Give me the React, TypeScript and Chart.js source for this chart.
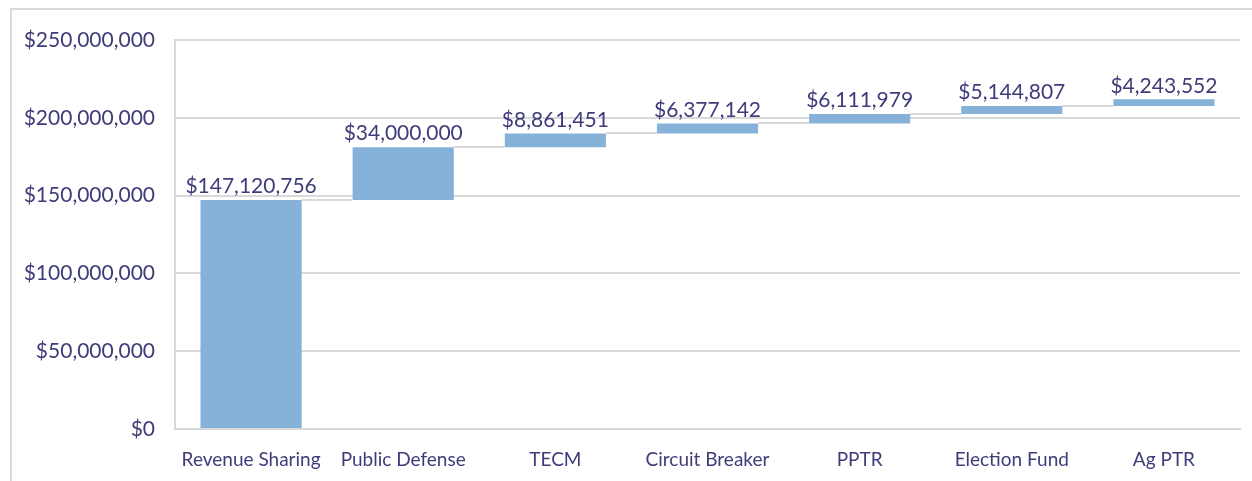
import React, { useEffect, useRef } from "react";
import { Chart, registerables } from "chart.js";

Chart.register(...registerables);

const categories = [
  "Revenue Sharing",
  "Public Defense",
  "TECM",
  "Circuit Breaker",
  "PPTR",
  "Election Fund",
  "Ag PTR",
];
const amounts = [147120756, 34000000, 8861451, 6377142, 6111979, 5144807, 4243552];
const yTicks = [0, 50000000, 100000000, 150000000, 200000000, 250000000];

const TEXT = "#3E3C79";
const BAR = "#86B2D9";
const GRID = "#D9D9D9";
const FONT = "Lato, 'Open Sans', sans-serif";

const fmt = (v: number) => "$" + Math.round(v).toLocaleString("en-US");

const ranges: [number, number][] = [];
{
  let run = 0;
  for (const a of amounts) {
    ranges.push([run, run + a]);
    run += a;
  }
}

const frameAndExtras = {
  id: "frameAndExtras",
  beforeDraw(chart: any) {
    const ctx = chart.ctx;
    ctx.save();
    ctx.strokeStyle = GRID;
    ctx.lineWidth = 2;
    ctx.beginPath();
    ctx.moveTo(11, chart.height);
    ctx.lineTo(11, 9);
    ctx.lineTo(chart.width, 9);
    ctx.stroke();
    ctx.restore();
  },
  afterDatasetsDraw(chart: any) {
    const ctx = chart.ctx;
    const meta = chart.getDatasetMeta(0);
    const els = meta.data;
    ctx.save();
    ctx.strokeStyle = GRID;
    ctx.lineWidth = 2;
    for (let i = 0; i < els.length - 1; i++) {
      const a = els[i];
      const b = els[i + 1];
      const y = Math.round(a.y);
      ctx.beginPath();
      ctx.moveTo(a.x + a.width / 2, y);
      ctx.lineTo(b.x - b.width / 2, y);
      ctx.stroke();
    }
    ctx.fillStyle = TEXT;
    ctx.font = `21px ${FONT}`;
    ctx.textAlign = "center";
    ctx.textBaseline = "bottom";
    els.forEach((el: any, i: number) => {
      const top = Math.min(el.y, el.base);
      ctx.fillText(fmt(amounts[i]), el.x, top - 3);
    });
    ctx.restore();
  },
};

export default function App() {
  const ref = useRef<HTMLCanvasElement | null>(null);
  useEffect(() => {
    document.body.style.margin = "0";
    if (!ref.current) return;
    const chart = new Chart(ref.current, {
      type: "bar",
      data: {
        labels: categories,
        datasets: [
          {
            data: ranges as any,
            backgroundColor: BAR,
            borderWidth: 0,
            barPercentage: 1,
            categoryPercentage: 0.665,
          },
        ],
      },
      options: {
        animation: false,
        responsive: false,
        devicePixelRatio: 1,
        layout: { padding: { left: 0, right: 12, top: 40, bottom: 0 } },
        plugins: {
          legend: { display: false },
          tooltip: { enabled: false },
          title: { display: false },
        },
        scales: {
          x: {
            grid: { display: false, drawTicks: false },
            border: { display: true, color: GRID, width: 2 },
            ticks: {
              color: TEXT,
              font: { family: FONT, size: 19 },
              padding: 19,
              maxRotation: 0,
              autoSkip: false,
            },
            afterFit(scale: any) {
              scale.height = 52;
            },
          },
          y: {
            min: 0,
            max: 250000000,
            afterBuildTicks(scale: any) {
              scale.ticks = yTicks.map((v) => ({ value: v }));
            },
            grid: { color: GRID, lineWidth: 2, drawTicks: false },
            border: { display: true, color: GRID, width: 2 },
            ticks: {
              color: TEXT,
              font: { family: FONT, size: 21 },
              padding: 20,
              callback: (v: any) => fmt(Number(v)),
            },
            afterFit(scale: any) {
              scale.width = 175;
            },
          },
        },
      },
      plugins: [frameAndExtras],
    });
    return () => chart.destroy();
  }, []);
  return (
    <div style={{ width: 1252, height: 481, position: "relative", background: "#fff" }}>
      <canvas ref={ref} width={1252} height={481} style={{ display: "block" }} />
    </div>
  );
}
